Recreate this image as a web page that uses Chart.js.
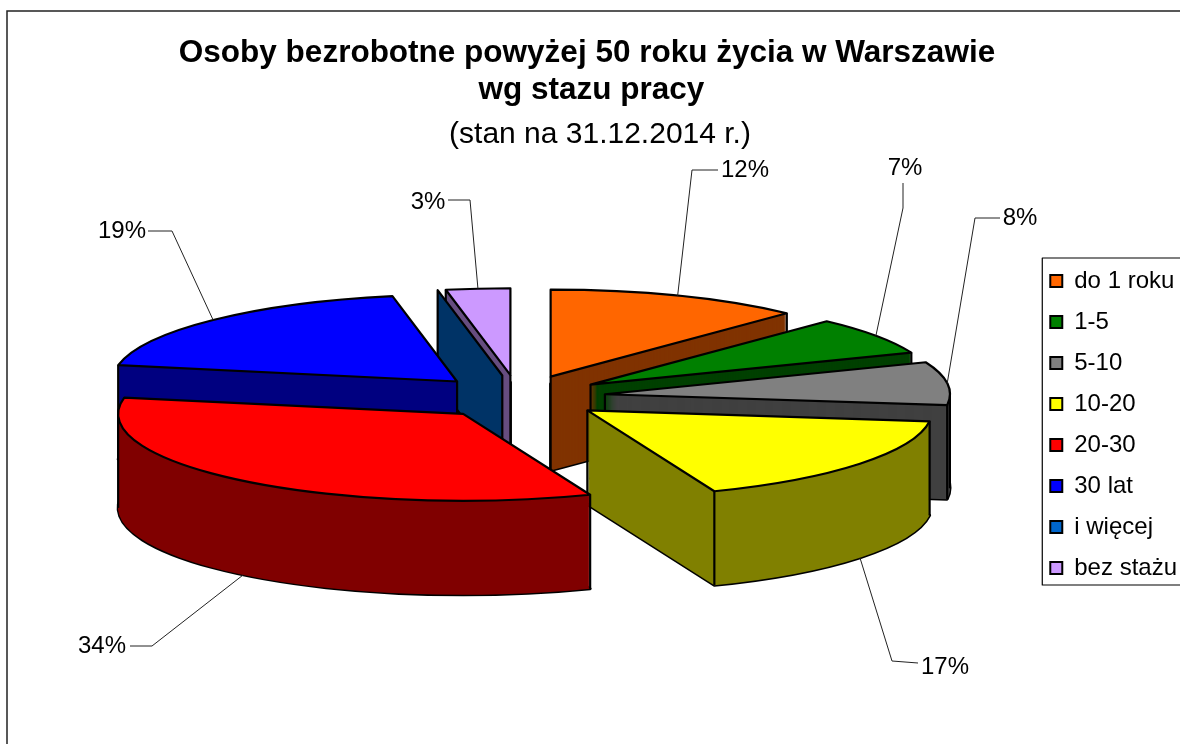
<!DOCTYPE html>
<html lang="pl">
<head>
<meta charset="utf-8">
<title>Osoby bezrobotne powyżej 50 roku życia w Warszawie</title>
<script src="https://cdn.jsdelivr.net/npm/chart.js@4"></script>
<style>
  html, body { margin: 0; padding: 0; background: #fff; overflow: hidden; }
  #wrap { width: 1180px; height: 744px; }
</style>
</head>
<body>
<div id="wrap"><canvas id="pieChart" width="1180" height="744"></canvas></div>
<script>
// Chart data
const categories = ["do 1 roku", "1-5", "5-10", "10-20", "20-30", "30 lat", "i więcej", "bez stażu"];
const shares = [12, 7, 8, 17, 34, 19, 0, 3];
const subtitleText = "(stan na 31.12.2014 r.)";

// Slice colours: top face and side wall
const topColors = ["#ff6600", "#008000", "#808080", "#ffff00", "#ff0000", "#0000ff", "#0066cc", "#cc99ff"];
const wallColors = ["#803300", "#004000", "#404040", "#808000", "#800000", "#000080", "#003366", "#664d80"];

// Back to front order for painting the exploded slices
const paintOrder = [0, 7, 6, 5, 1, 2, 3, 4];

// Hand placed data labels (same order as categories, null = no label)
const labelAt = [[745, 170], [905, 168], [1020, 218], [945, 667], [102, 646], [122, 231], null, [428, 202]];
const leaderFrom = [[718, 170], [903, 183], [1000, 218], [918, 663], [130, 646], [148, 231], null, [448, 200]];
const leaderElbow = [[692, 170], [903, 208], [975, 218], [892, 661], [152, 646], [172, 231], null, [470, 200]];

// Fake 3D projection settings
const pieCenterX = 518.6;
const pieCenterY = 397;
const pieRadius = 345;
const squash = 0.252;
const explode = 87;
const depth = 94;

// Screen position of a point given in the flat pie plane
function project(arc, px, py, down) {
  const mid = (arc.startAngle + arc.endAngle) / 2;
  return {
    x: pieCenterX + px + Math.cos(mid) * explode,
    y: pieCenterY + (py + Math.sin(mid) * explode) * squash + down,
  };
}

function rimPoint(arc, angle, down) {
  return project(arc, Math.cos(angle) * arc.outerRadius, Math.sin(angle) * arc.outerRadius, down);
}

// Fill one slice with the library's own arc element
function fillArc(ctx, arc, color, down) {
  const mid = (arc.startAngle + arc.endAngle) / 2;
  const saved = arc.options;
  arc.options = Object.assign({}, saved, { backgroundColor: color, borderWidth: 0 });
  ctx.save();
  ctx.translate(pieCenterX, pieCenterY + down);
  ctx.scale(1, squash);
  ctx.translate(Math.cos(mid) * explode - arc.x, Math.sin(mid) * explode - arc.y);
  arc.draw(ctx);
  ctx.restore();
  arc.options = saved;
}

// Outline of one slice at a given height
function strokeOutline(ctx, arc, down) {
  const apex = project(arc, 0, 0, down);
  ctx.beginPath();
  ctx.moveTo(apex.x, apex.y);
  ctx.ellipse(apex.x, apex.y, arc.outerRadius, arc.outerRadius * squash, 0, arc.startAngle, arc.endAngle);
  ctx.closePath();
  ctx.stroke();
}

function strokeEdge(ctx, p) {
  ctx.beginPath();
  ctx.moveTo(p.x, p.y);
  ctx.lineTo(p.x, p.y + depth);
  ctx.stroke();
}

// Draw walls and top face of one slice
function drawSlice(ctx, arc, index) {
  const a = arc.startAngle;
  const b = arc.endAngle;
  ctx.strokeStyle = "#000";
  ctx.lineWidth = 2.2;
  ctx.lineJoin = "round";

  // A 0% slice has no top face, only its wall
  if (arc.circumference === 0) {
    const apex = project(arc, 0, 0, 0);
    const rim = rimPoint(arc, a, 0);
    ctx.beginPath();
    ctx.moveTo(apex.x, apex.y);
    ctx.lineTo(rim.x, rim.y);
    ctx.lineTo(rim.x, rim.y + depth);
    ctx.lineTo(apex.x, apex.y + depth);
    ctx.closePath();
    ctx.fillStyle = wallColors[index];
    ctx.fill();
    ctx.stroke();
    return;
  }

  // Bottom outline goes first, the wall stack hides its inner part
  ctx.lineWidth = 3;
  strokeOutline(ctx, arc, depth);
  ctx.lineWidth = 2.2;
  for (let k = depth; k > 0; k--) {
    fillArc(ctx, arc, wallColors[index], k);
  }

  // Vertical corners, only where a neighbouring wall faces the viewer
  const startWall = Math.cos(a) < -1e-6;
  const endWall = Math.cos(b) > 1e-6;
  if (startWall || endWall) {
    strokeEdge(ctx, project(arc, 0, 0, 0));
  }
  if (startWall || Math.sin(a) > 0) {
    strokeEdge(ctx, rimPoint(arc, a, 0));
  }
  if (endWall || Math.sin(b) > 0) {
    strokeEdge(ctx, rimPoint(arc, b, 0));
  }

  // Left and right silhouette of the rim
  [0, Math.PI, 2 * Math.PI].forEach(function (angle) {
    if (angle > a && angle < b) {
      strokeEdge(ctx, rimPoint(arc, angle, 0));
    }
  });

  fillArc(ctx, arc, topColors[index], 0);
  strokeOutline(ctx, arc, 0);
}

function drawLabels(chart) {
  const ctx = chart.ctx;
  const arcs = chart.getDatasetMeta(0).data;
  ctx.save();
  ctx.font = "24px 'Liberation Sans'";
  ctx.textAlign = "center";
  ctx.textBaseline = "middle";
  ctx.fillStyle = "#000";
  ctx.strokeStyle = "#222";
  ctx.lineWidth = 1;

  shares.forEach(function (value, i) {
    if (!labelAt[i]) {
      return;
    }
    const arc = arcs[i];
    const mid = (arc.startAngle + arc.endAngle) / 2;
    // Slices on the front side get the leader on the wall bottom
    const end = rimPoint(arc, mid, Math.sin(mid) > 0 ? depth : 0);
    ctx.beginPath();
    ctx.moveTo(leaderFrom[i][0], leaderFrom[i][1]);
    ctx.lineTo(leaderElbow[i][0], leaderElbow[i][1]);
    ctx.lineTo(end.x, end.y);
    ctx.stroke();
    ctx.fillText(value + "%", labelAt[i][0], labelAt[i][1]);
  });
  ctx.restore();
}

const pie3dPlugin = {
  id: "pie3d",
  afterLayout: function (chart) {
    // The subtitle sits a bit right of the title in the original
    chart.boxes.forEach(function (box) {
      if (box.options && box.options.text === subtitleText) {
        box.left += 26;
      }
    });
  },
  beforeDraw: function (chart) {
    const ctx = chart.ctx;
    // Outer chart frame runs off the right and bottom of the page
    ctx.save();
    ctx.strokeStyle = "#222";
    ctx.lineWidth = 1.5;
    ctx.strokeRect(7, 11, 1400, 1000);
    ctx.restore();
  },
  beforeDatasetsDraw: function (chart) {
    const ctx = chart.ctx;
    const arcs = chart.getDatasetMeta(0).data;
    paintOrder.forEach(function (i) {
      drawSlice(ctx, arcs[i], i);
    });
    drawLabels(chart);
    return false;
  },
  afterDraw: function (chart) {
    const ctx = chart.ctx;
    const first = chart.legend.legendHitBoxes[0];
    // Legend box, cut off by the page edge like the original
    ctx.save();
    ctx.strokeStyle = "#000";
    ctx.lineWidth = 1.2;
    ctx.strokeRect(first.left - 8, first.top - 11, 400, 327);
    ctx.restore();
  },
};

new Chart(document.getElementById("pieChart"), {
  type: "pie",
  plugins: [pie3dPlugin],
  data: {
    labels: categories,
    datasets: [
      {
        data: shares,
        backgroundColor: topColors,
        borderColor: "#000",
        borderWidth: 2,
        radius: pieRadius,
      },
    ],
  },
  options: {
    responsive: false,
    animation: false,
    layout: {
      padding: { left: -13, right: -7, top: 0, bottom: -105 },
    },
    plugins: {
      tooltip: { enabled: false },
      title: {
        display: true,
        text: ["Osoby bezrobotne powyżej 50 roku życia w Warszawie", "\u00a0wg stazu pracy"],
        color: "#000",
        font: { family: "'Liberation Sans'", size: 31.5, weight: "bold", lineHeight: 1.175 },
        padding: { top: 35, bottom: 8 },
      },
      subtitle: {
        display: true,
        text: subtitleText,
        color: "#000",
        font: { family: "'Liberation Sans'", size: 30, weight: "normal" },
        padding: { top: 0, bottom: 0 },
      },
      legend: {
        position: "right",
        labels: {
          color: "#000",
          font: { family: "'Liberation Sans'", size: 24 },
          boxWidth: 12,
          boxHeight: 12,
          padding: 17,
        },
      },
    },
  },
});
</script>
</body>
</html>
